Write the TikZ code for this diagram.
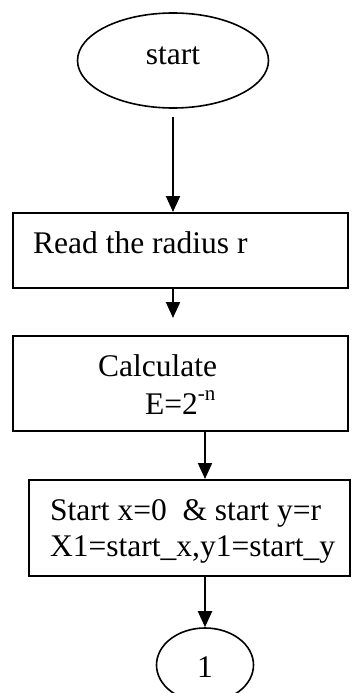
\documentclass[tikz,border=0pt]{standalone}
\usepackage{fontspec}
\setmainfont{Liberation Serif}
\usetikzlibrary{shapes.geometric,arrows.meta}
\begin{document}
\begin{tikzpicture}[x=1pt,y=-1pt,
  every node/.style={font=\fontsize{31.5}{36}\selectfont},
  boxnode/.style={draw,line width=2pt,rectangle,inner sep=0pt},
  ovalnode/.style={draw,line width=1.6pt,ellipse,inner sep=0pt},
  txt/.style={inner sep=0pt,anchor=base west},
  arr/.style={line width=2pt,-{Triangle[width=14pt,length=16pt]}}]
\useasboundingbox (0,0) rectangle (352,693);
\clip (0,0) rectangle (352,693);
% shapes
\node[ovalnode,minimum width=191pt,minimum height=95pt] (s) at (173,60.5) {};
\node[inner sep=0pt,anchor=base] (stxt) at (173,65) {start};
\node[boxnode,minimum width=335pt,minimum height=75pt] (b1) at (180.5,250.5) {};
\node[txt] (t1) at (33,253) {Read the radius r};
\node[boxnode,minimum width=335pt,minimum height=95pt] (b2) at (180.5,383.5) {};
\node[txt] (t2a) at (98,376) {Calculate};
\node[txt] (t2b) at (145,414) {E=2\raisebox{14pt}{\fontsize{21}{21}\selectfont -n}};
\node[boxnode,minimum width=321pt,minimum height=96pt] (b3) at (189.5,528) {};
\node[txt] (t3a) at (50,520) {Start x=0\ \ \& start y=r};
\node[txt] (t3b) at (50,556) {X1=start\_x,y1=start\_y};
\node[ovalnode,minimum width=97pt,minimum height=74pt] (c) at (205,665) {};
\node[inner sep=0pt,anchor=base] (ctxt) at (205,677) {1};
\coordinate (a2end) at (173,318);
% connectors
\draw[arr] ([yshift=-8pt]s.south) -- (s.south |- b1.north);
\draw[arr] (b1.south -| a2end) -- (a2end);
\draw[arr] (b2.south -| c) -- (b3.north -| c);
\draw[arr] (b3.south -| c) -- (c.north);
\end{tikzpicture}
\end{document}
